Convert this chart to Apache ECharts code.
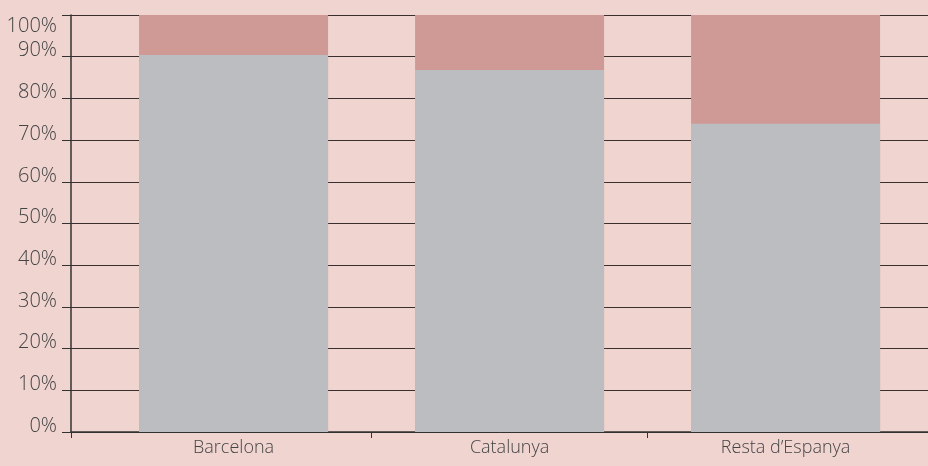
<!DOCTYPE html>
<html>
<head>
    <meta charset="utf-8">
    <title>ECharts</title>
    <script src="https://cdn.jsdelivr.net/npm/echarts@6/dist/echarts.min.js"></script>
    <style>
        html, body { margin: 0; padding: 0; background: #efd4d0; }
    </style>
</head>
<body>
<div id="main" style="width: 928px;height:466px;"></div>
<script type="text/javascript">
    // categories and shares (%)
    var categories = ['Barcelona', 'Catalunya', 'Resta d\u2019Espanya'];
    var lower = [90.4, 86.8, 73.9];
    var upper = [9.6, 13.2, 26.1];

    var myChart = echarts.init(document.getElementById('main'));

    // x is a value axis so the plot can start left of the first category slot
    var xMin = -0.589, xMax = 2.516;
    var totalData = lower.map(function (v, i) { return [i, v + upper[i]]; });
    var lowerData = lower.map(function (v, i) { return [i, v]; });

    var font = 'Open Sans';

    var option = {
        backgroundColor: '#efd4d0',
        animation: false,
        grid: { left: 71, right: 0, top: 15, bottom: 34 },
        xAxis: {
            type: 'value',
            min: xMin,
            max: xMax,
            splitLine: { show: false },
            axisLine: { show: true, lineStyle: { color: '#333', width: 1.5 } },
            axisTick: { show: true, length: 6, customValues: [xMin, 0.5, 1.5], lineStyle: { color: '#333' } },
            axisLabel: {
                customValues: [0, 1, 2],
                formatter: function (v) { return categories[Math.round(v)]; },
                color: '#444', fontSize: 18, fontFamily: font, fontWeight: 300, margin: 7
            }
        },
        yAxis: {
            type: 'value',
            min: 0, max: 100, interval: 10,
            axisLine: { show: true, onZero: false, lineStyle: { color: '#333', width: 1.5 } },
            axisTick: { show: true, length: 9, lineStyle: { color: '#333' } },
            splitLine: { show: true, lineStyle: { color: '#3a2e2e', width: 1 } },
            axisLabel: {
                margin: 14,
                formatter: function (v) {
                    return v === 100 ? '{t|' + v + '%}' : '{n|' + v + '%}';
                },
                rich: {
                    n: { color: '#444', fontSize: 20, fontFamily: font, fontWeight: 300, padding: [0, 0, 12, 0] },
                    t: { color: '#444', fontSize: 20, fontFamily: font, fontWeight: 300, padding: [22, 0, 0, 0] }
                }
            }
        },
        series: [
            {
                type: 'bar', barWidth: 189,
                itemStyle: { color: '#cf9a96' },
                data: totalData
            },
            {
                type: 'bar', barWidth: 189, barGap: '-100%',
                itemStyle: { color: '#bcbdc1' },
                data: lowerData
            }
        ]
    };
    myChart.setOption(option);
</script>
</body>
</html>
